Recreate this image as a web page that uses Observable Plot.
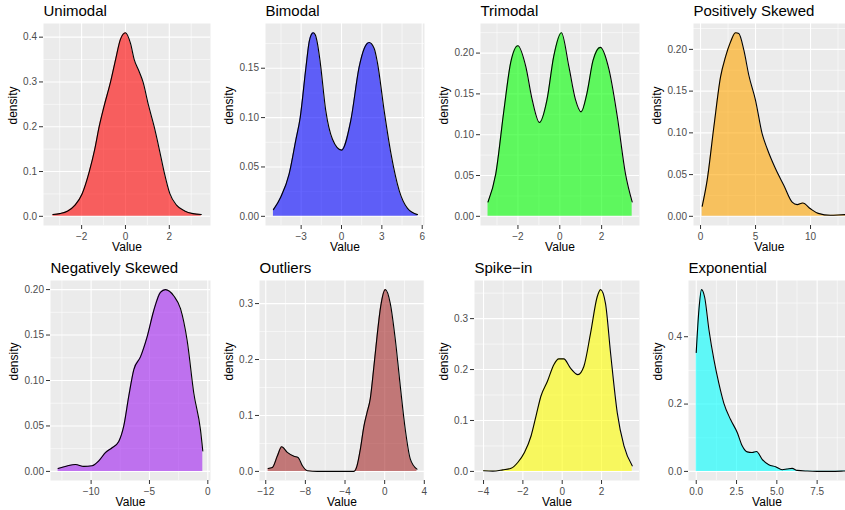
<!DOCTYPE html>
<html><head><meta charset="utf-8">
<script src="https://cdn.jsdelivr.net/npm/d3@7"></script>
<script src="https://cdn.jsdelivr.net/npm/@observablehq/plot@0.6"></script>
<style>
body{margin:0;background:#fff;}
#chart{position:relative;width:845px;height:510px;overflow:hidden;}
#chart svg{position:absolute;left:0;}
</style></head><body><div id="chart"></div>
<script>
// ---- data ----
const titles = ["Unimodal","Bimodal","Trimodal","Positively Skewed","Negatively Skewed","Outliers","Spike\u2212in","Exponential"];
const fills = ["red","blue","#00FF00","orange","#A020F0","#A52A2A","yellow","cyan"];

const unimodalX = [-3.31,-3.0,-2.63,-2.3,-1.98,-1.65,-1.4,-1.2,-0.98,-0.68,-0.45,-0.23,0,0.23,0.4,0.6,0.8,1.05,1.31,1.55,1.76,2.03,2.33,2.7,3.08,3.46];
const unimodalY = [0.004,0.006,0.012,0.025,0.05,0.1,0.15,0.2,0.245,0.3,0.35,0.395,0.41,0.386,0.35,0.326,0.3,0.248,0.2,0.148,0.1,0.05,0.025,0.012,0.006,0.004];

const bimodalX = [-5.06,-4.51,-3.89,-3.4,-3.07,-2.65,-2.4,-2.25,-2.1,-1.95,-1.8,-1.6,-1.17,-0.67,0,0.69,1.31,1.69,2.06,2.43,2.68,3.17,3.67,4.29,4.91,5.65];
const bimodalY = [0.0068,0.0196,0.043,0.077,0.1,0.15,0.177,0.184,0.186,0.184,0.176,0.158,0.107,0.078,0.067,0.097,0.151,0.17,0.176,0.17,0.155,0.107,0.064,0.026,0.008,0.0017];

const trimodalX = [-3.43,-3.06,-2.67,-2.35,-2,-1.63,-1.32,-0.97,-0.61,-0.29,0.08,0.43,0.75,1.02,1.3,1.59,1.94,2.35,2.75,3.14,3.46];
const trimodalY = [0.0176,0.052,0.13,0.188,0.209,0.184,0.143,0.115,0.143,0.196,0.225,0.184,0.143,0.128,0.151,0.191,0.207,0.18,0.122,0.052,0.0176];

const posSkewX = [0.15,0.6,1.21,1.82,2.27,2.73,3.18,3.48,3.94,4.39,5,5.6,6.06,6.82,7.58,8.33,8.79,9.3,10,10.7,11.8,13.2,14];
const posSkewY = [0.012,0.043,0.107,0.167,0.191,0.209,0.22,0.219,0.199,0.169,0.139,0.099,0.081,0.057,0.037,0.017,0.014,0.016,0.009,0.0035,0.0012,0.002,0.002];

const negSkewX = [-12.83,-12.06,-11.34,-10.63,-9.91,-9.34,-8.77,-8.2,-7.63,-7.2,-6.77,-6.34,-5.77,-5.2,-4.63,-4.06,-3.63,-2.91,-2.34,-1.77,-1.2,-0.63,-0.43];
const negSkewY = [0.0033,0.006,0.0076,0.0055,0.0062,0.0116,0.0207,0.026,0.033,0.05,0.083,0.112,0.126,0.148,0.177,0.197,0.2,0.193,0.179,0.144,0.086,0.046,0.0225];

const outliersX = [-11.76,-11.33,-10.82,-10.39,-9.82,-9.15,-8.74,-8.3,-7.8,-6.8,-3.1,-2.79,-2.45,-2.1,-1.78,-1.45,-1.1,-0.77,-0.4,0.07,0.57,1.08,1.58,2.08,2.59,3.26];
const outliersY = [0.0053,0.007,0.028,0.044,0.034,0.027,0.025,0.01,0.0012,0,0,0.01,0.04,0.08,0.105,0.13,0.185,0.241,0.295,0.325,0.3,0.235,0.152,0.075,0.022,0.004];

const spikeX = [-4,-3.53,-3.02,-2.6,-2.25,-1.92,-1.58,-1.33,-1.08,-0.75,-0.42,-0.17,0.08,0.42,0.8,1.1,1.44,1.78,1.95,2.2,2.46,2.8,3.14,3.56];
const spikeY = [0.0013,0.0005,0.003,0.006,0.018,0.037,0.07,0.109,0.148,0.177,0.21,0.221,0.221,0.203,0.19,0.206,0.271,0.343,0.357,0.33,0.232,0.115,0.05,0.011];

const expX = [0,0.165,0.33,0.52,0.79,1.1,1.4,1.71,2.13,2.55,2.85,3.16,3.47,3.74,4.09,4.5,4.92,5.33,5.64,5.95,6.26,6.88,7.5,8.33,9.15,9.8];
const expY = [0.353,0.479,0.54,0.518,0.42,0.331,0.262,0.203,0.154,0.115,0.076,0.058,0.056,0.059,0.036,0.02,0.014,0.005,0.007,0.009,0.003,0.001,0.0002,0.0002,0.001,0.002];

const xTicks = [[-2,0,2],[-3,0,3,6],[-2,0,2],[0,5,10],[-10,-5,0],[-12,-8,-4,0,4],[-4,-2,0,2],[0,2.5,5,7.5]];
const xMinor = [[-3,-1,1,3],[-4.5,-1.5,1.5,4.5],[-3,-1,1,3],[2.5,7.5,12.5],[-12.5,-7.5,-2.5],[-10,-6,-2,2],[-3,-1,1,3],[1.25,3.75,6.25,8.75]];
const yTicks = [[0,0.1,0.2,0.3,0.4],[0,0.05,0.1,0.15],[0,0.05,0.1,0.15,0.2],[0,0.05,0.1,0.15,0.2],[0,0.05,0.1,0.15,0.2],[0,0.1,0.2,0.3],[0,0.1,0.2,0.3],[0,0.2,0.4]];
const yMinor = [[0.05,0.15,0.25,0.35],[0.025,0.075,0.125,0.175],[0.025,0.075,0.125,0.175,0.225],[0.025,0.075,0.125,0.175,0.225],[0.025,0.075,0.125,0.175],[0.05,0.15,0.25],[0.05,0.15,0.25,0.35],[0.1,0.3,0.5]];
const xFormats = ["d","d","d","d","d","d","d",".1f"];
const yFormats = [".1f",".2f",".2f",".2f",".2f",".1f",".1f",".1f"];

const seriesX = [unimodalX,bimodalX,trimodalX,posSkewX,negSkewX,outliersX,spikeX,expX];
const seriesY = [unimodalY,bimodalY,trimodalY,posSkewY,negSkewY,outliersY,spikeY,expY];

// ---- layout ----
const layout = [
  {left:43,right:210,xd:[-3.74,3.88]},
  {left:265,right:424,xd:[-5.65,6.17]},
  {left:480,right:639,xd:[-3.79,3.81]},
  {left:693,right:845,xd:[-0.64,13.18]},
  {left:50,right:210,xd:[-13.48,0.23]},
  {left:259,right:424,xd:[-12.63,4.02]},
  {left:474,right:639,xd:[-4.46,3.93]},
  {left:688,right:845,xd:[-0.48,9.26]}
];
const rowTops = [0,257];
const rowBottomMargins = [30,32];
const valueDy = [22,22];
const font = "'Liberation Sans', Arial, Helvetica, sans-serif";
const chart = document.getElementById("chart");

seriesX.forEach((xs, i) => {
  const L = layout[i];
  const row = i < 4 ? 0 : 1;
  const data = xs.map((x, j) => ({x, y: seriesY[i][j]}));
  const ymax = d3.max(seriesY[i]);
  const yd = [-0.05 * ymax, 1.05 * ymax];
  const inX = v => v >= L.xd[0] && v <= L.xd[1];
  const inY = v => v >= yd[0] && v <= yd[1];
  const dec = yFormats[i] === ".1f" ? 1 : 2;
  const labW = 10 * (0.556 * (dec + 1) + 0.278);
  const svg = Plot.plot({
    width: 845, height: 255,
    marginLeft: L.left, marginRight: 845 - L.right, marginTop: 23, marginBottom: rowBottomMargins[row],
    x: {domain: L.xd},
    y: {domain: yd},
    style: {fontFamily: font, fontSize: "10px", background: "transparent", overflow: "visible"},
    marks: [
      Plot.frame({fill: "#EBEBEB", stroke: "none"}),
      Plot.gridX(xMinor[i].filter(inX), {stroke: "white", strokeOpacity: 1, strokeWidth: 0.55}),
      Plot.gridY(yMinor[i].filter(inY), {stroke: "white", strokeOpacity: 1, strokeWidth: 0.55}),
      Plot.gridX(xTicks[i], {stroke: "white", strokeOpacity: 1, strokeWidth: 1.1}),
      Plot.gridY(yTicks[i], {stroke: "white", strokeOpacity: 1, strokeWidth: 1.1}),
      Plot.areaY(data, {x: "x", y: "y", fill: fills[i], fillOpacity: 0.6, curve: "monotone-x", clip: true}),
      Plot.line(data, {x: "x", y: "y", stroke: "black", strokeWidth: 1.1, curve: "monotone-x", clip: true}),
      Plot.axisX(xTicks[i], {tickFormat: d3.format(xFormats[i]), tickSize: 4, tickPadding: 3, stroke: "#333333", fill: "#4D4D4D", label: null}),
      Plot.axisY(yTicks[i], {tickFormat: d3.format(yFormats[i]), tickSize: 4, tickPadding: 2.5, stroke: "#333333", fill: "#4D4D4D", label: null}),
      Plot.text([titles[i]], {text: d => d, frameAnchor: "top-left", lineAnchor: "middle", textAnchor: "start", dy: -12, fontSize: 15, fill: "black"}),
      Plot.text(["Value"], {text: d => d, frameAnchor: "bottom", lineAnchor: "middle", dy: valueDy[row], fontSize: 12, fill: "black"}),
      Plot.text(["density"], {text: d => d, frameAnchor: "left", lineAnchor: "middle", rotate: -90, dx: -(labW + 16.8), fontSize: 12, fill: "black"})
    ]
  });
  svg.style.top = rowTops[row] + "px";
  chart.appendChild(svg);
});
</script>
</body></html>
